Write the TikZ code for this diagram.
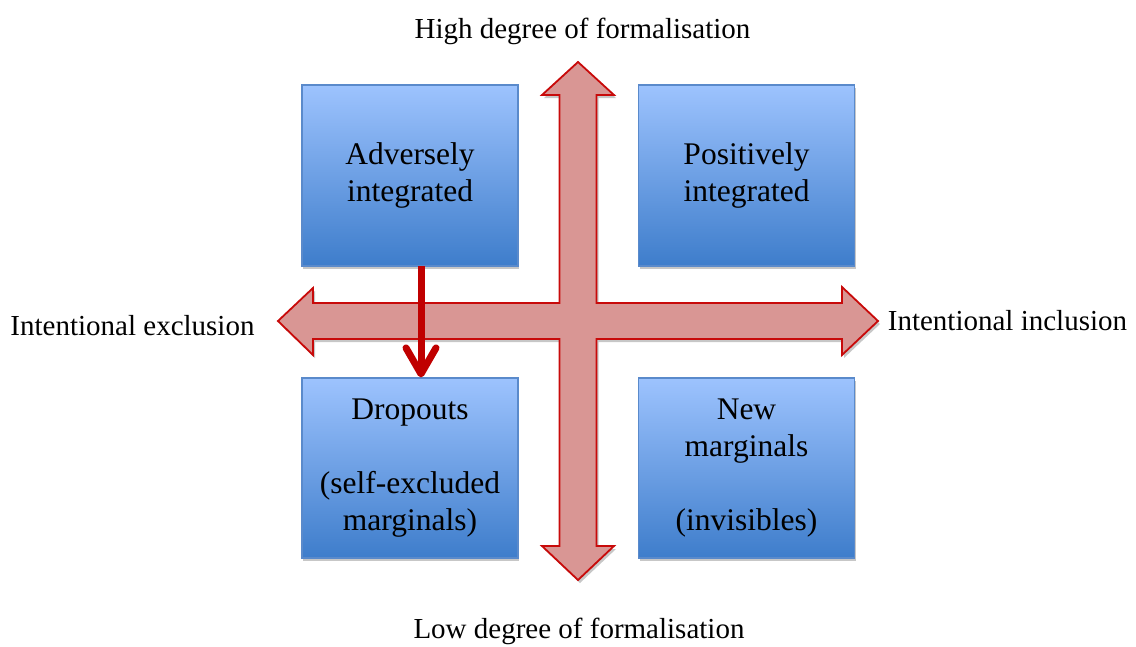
\documentclass[tikz,border=0pt]{standalone}
\usepackage{fontspec}
\setmainfont{Liberation Serif}
\usetikzlibrary{arrows.meta,shadows}
\definecolor{boxtop}{HTML}{9DC3FE}
\definecolor{boxbot}{HTML}{3E7DCB}
\definecolor{boxedge}{HTML}{5A8ACB}
\definecolor{crossfill}{HTML}{D99694}
\definecolor{crossedge}{HTML}{C80A0A}
\definecolor{darkred}{HTML}{C00000}
\tikzset{
  quad/.style={draw=boxedge, line width=1.2pt, top color=boxtop, bottom color=boxbot,
    minimum width=216pt, minimum height=181pt, inner sep=0pt, align=center,
    font=\fontsize{31.5}{37}\selectfont,
    general shadow={shadow xshift=1pt, shadow yshift=-3pt, fill=black!22}},
  axislabel/.style={font=\fontsize{29}{34}\selectfont, inner sep=0pt, anchor=base},
  flow/.style={draw=darkred, line width=7pt, -{Straight Barb[length=26pt, width=30pt, round]}}
}
\begin{document}
\begin{tikzpicture}[x=1pt,y=-1pt]
\useasboundingbox (0,0) rectangle (1136,646);
% quadrant boxes
\node[quad] (AI) at (410,175.5) {Adversely\\integrated};
\node[quad] (PI) at (746.5,175.5) {Positively\\integrated};
\node[quad, minimum height=180pt] (DO) at (410,468) {Dropouts\\[37pt](self-excluded\\marginals)};
\node[quad, minimum height=180pt] (NM) at (746.5,468) {New\\marginals\\[37pt](invisibles)};
% cross shadow
\fill[black!22, shift={(2,3)}] (578,62) -- (614,95) -- (596.5,95) -- (596.5,303) -- (842,303) -- (842,287) -- (878,321) -- (842,355) -- (842,339) -- (596.5,339) -- (596.5,546) -- (614,546) -- (578,580) -- (542,546) -- (559.5,546) -- (559.5,339) -- (313,339) -- (313,355) -- (278,321) -- (313,288) -- (313,303) -- (559.5,303) -- (559.5,95) -- (542,95) -- cycle;
% cross arrows
\filldraw[fill=crossfill, draw=crossedge, line width=1.8pt, line join=miter] (578,62) -- (614,95) -- (596.5,95) -- (596.5,303) -- (842,303) -- (842,287) -- (878,321) -- (842,355) -- (842,339) -- (596.5,339) -- (596.5,546) -- (614,546) -- (578,580) -- (542,546) -- (559.5,546) -- (559.5,339) -- (313,339) -- (313,355) -- (278,321) -- (313,288) -- (313,303) -- (559.5,303) -- (559.5,95) -- (542,95) -- cycle;
% axis labels
\node[axislabel] (hi) at (582.5,38) {High degree of formalisation};
\node[axislabel] (lo) at (579,638) {Low degree of formalisation};
\node[axislabel] (ex) at (132.5,335) {Intentional exclusion};
\node[axislabel] (in) at (1007.5,330) {Intentional inclusion};
% red flow arrow
\coordinate (fs) at (421,266);
\draw[flow] (fs) -- (fs |- DO.north);
\end{tikzpicture}
\end{document}
